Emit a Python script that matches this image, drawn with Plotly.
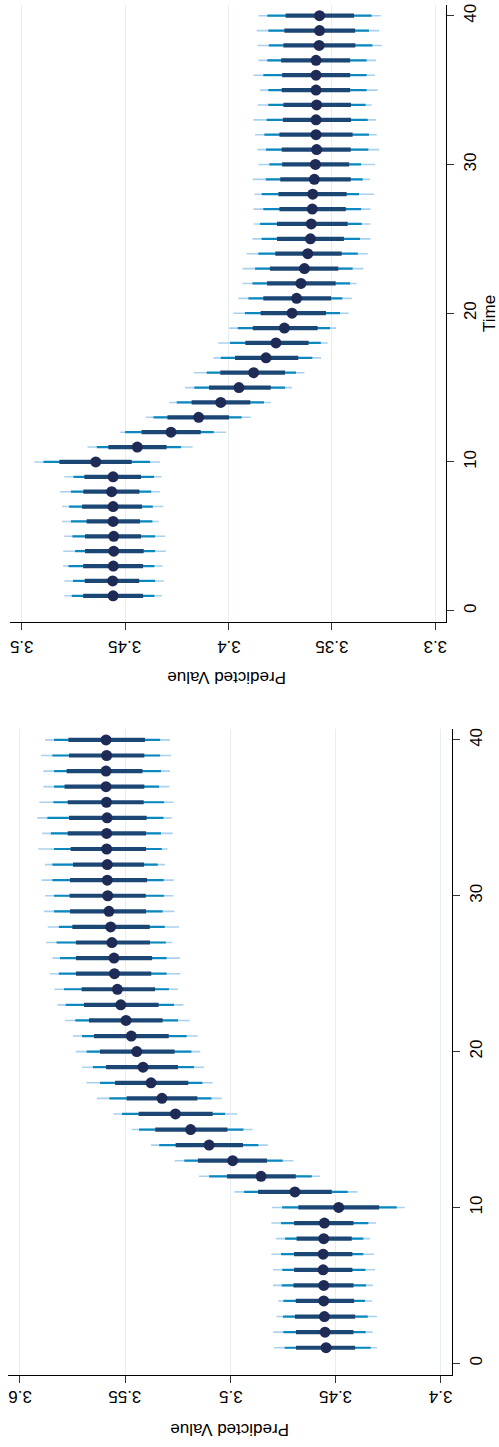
import plotly.graph_objects as go

time = list(range(1, 41))

# Panel A (top)
a_med = [3.4558,3.4560,3.4557,3.4555,3.4555,3.4558,3.4558,3.4565,3.4558,3.4642,
         3.4441,3.4278,3.4144,3.4037,3.3949,3.3878,3.3818,3.3770,3.3729,3.3692,
         3.3670,3.3649,3.3632,3.3616,3.3603,3.3599,3.3594,3.3592,3.3584,3.3579,
         3.3573,3.3576,3.3576,3.3573,3.3576,3.3576,3.3576,3.3561,3.3559,3.3559]
a_lo50 = [3.4413,3.4432,3.4413,3.4410,3.4423,3.4428,3.4418,3.4431,3.4423,3.4468,
          3.4299,3.4134,3.3997,3.3894,3.3795,3.3726,3.3662,3.3612,3.3568,3.3528,
          3.3503,3.3481,3.3468,3.3452,3.3441,3.3423,3.3432,3.3428,3.3408,3.3416,
          3.3408,3.3399,3.3407,3.3407,3.3411,3.3411,3.3411,3.3386,3.3387,3.3392]
a_hi50 = [3.4703,3.4695,3.4703,3.4694,3.4694,3.4686,3.4708,3.4702,3.4697,3.4818,
          3.4581,3.4420,3.4295,3.4178,3.4094,3.4039,3.3968,3.3918,3.3882,3.3844,
          3.3831,3.3813,3.3799,3.3773,3.3765,3.3765,3.3753,3.3758,3.3749,3.3740,
          3.3742,3.3753,3.3736,3.3734,3.3742,3.3740,3.3745,3.3734,3.3729,3.3723]
a_lo80 = [3.4358,3.4355,3.4358,3.4355,3.4355,3.4368,3.4366,3.4374,3.4360,3.4379,
          3.4229,3.4071,3.3936,3.3828,3.3726,3.3673,3.3594,3.3553,3.3508,3.3460,
          3.3449,3.3411,3.3399,3.3374,3.3363,3.3355,3.3358,3.3368,3.3350,3.3358,
          3.3323,3.3320,3.3326,3.3336,3.3331,3.3331,3.3331,3.3303,3.3320,3.3307]
a_hi80 = [3.4758,3.4752,3.4774,3.4742,3.4755,3.4762,3.4771,3.4762,3.4750,3.4895,
          3.4637,3.4500,3.4363,3.4250,3.4165,3.4105,3.4037,3.3992,3.3955,3.3920,
          3.3903,3.3884,3.3871,3.3855,3.3839,3.3847,3.3831,3.3839,3.3819,3.3802,
          3.3818,3.3826,3.3815,3.3807,3.3807,3.3831,3.3812,3.3805,3.3807,3.3812]
a_lo95 = [3.4321,3.4313,3.4318,3.4303,3.4307,3.4337,3.4315,3.4331,3.4324,3.4331,
          3.4173,3.4012,3.3892,3.3795,3.3692,3.3632,3.3552,3.3520,3.3479,3.3418,
          3.3403,3.3379,3.3347,3.3326,3.3312,3.3312,3.3312,3.3295,3.3315,3.3290,
          3.3271,3.3282,3.3286,3.3307,3.3278,3.3290,3.3286,3.3258,3.3270,3.3263]
a_hi95 = [3.4794,3.4794,3.4800,3.4799,3.4794,3.4805,3.4805,3.4815,3.4794,3.4939,
          3.4682,3.4524,3.4400,3.4287,3.4210,3.4166,3.4073,3.4049,3.3997,3.3976,
          3.3952,3.3932,3.3932,3.3912,3.3884,3.3876,3.3879,3.3874,3.3882,3.3855,
          3.3860,3.3871,3.3879,3.3858,3.3847,3.3879,3.3855,3.3860,3.3863,3.3855]

# Panel B (bottom)
b_med = [3.4545,3.4550,3.4553,3.4556,3.4556,3.4559,3.4559,3.4556,3.4553,3.4485,
         3.4693,3.4854,3.4989,3.5101,3.5189,3.5261,3.5325,3.5377,3.5415,3.5445,
         3.5471,3.5496,3.5521,3.5537,3.5551,3.5553,3.5563,3.5569,3.5577,3.5583,
         3.5585,3.5585,3.5588,3.5588,3.5586,3.5589,3.5591,3.5591,3.5588,3.5591]
b_lo50 = [3.4407,3.4415,3.4407,3.4412,3.4415,3.4420,3.4420,3.4423,3.4415,3.4293,
          3.4518,3.4689,3.4826,3.4940,3.5014,3.5084,3.5157,3.5200,3.5249,3.5265,
          3.5293,3.5322,3.5341,3.5358,3.5376,3.5372,3.5382,3.5383,3.5401,3.5402,
          3.5396,3.5410,3.5401,3.5401,3.5398,3.5412,3.5409,3.5418,3.5409,3.5406]
b_hi50 = [3.4688,3.4688,3.4693,3.4689,3.4700,3.4697,3.4697,3.4685,3.4697,3.4677,
          3.4868,3.5016,3.5154,3.5260,3.5357,3.5436,3.5493,3.5548,3.5591,3.5620,
          3.5648,3.5672,3.5696,3.5707,3.5734,3.5734,3.5734,3.5751,3.5762,3.5764,
          3.5762,3.5748,3.5759,3.5773,3.5767,3.5773,3.5788,3.5778,3.5767,3.5770]
b_lo80 = [3.4333,3.4357,3.4347,3.4360,3.4355,3.4358,3.4368,3.4368,3.4344,3.4209,
          3.4442,3.4613,3.4751,3.4867,3.4938,3.5025,3.5090,3.5133,3.5173,3.5185,
          3.5208,3.5249,3.5268,3.5292,3.5303,3.5303,3.5307,3.5312,3.5322,3.5315,
          3.5317,3.5345,3.5326,3.5330,3.5318,3.5315,3.5339,3.5330,3.5334,3.5334]
b_hi80 = [3.4742,3.4748,3.4750,3.4748,3.4756,3.4753,3.4759,3.4740,3.4759,3.4754,
          3.4935,3.5101,3.5219,3.5338,3.5434,3.5515,3.5575,3.5620,3.5653,3.5683,
          3.5705,3.5737,3.5783,3.5791,3.5815,3.5810,3.5826,3.5815,3.5838,3.5838,
          3.5846,3.5846,3.5838,3.5853,3.5870,3.5841,3.5838,3.5838,3.5846,3.5838]
b_lo95 = [3.4303,3.4323,3.4303,3.4326,3.4323,3.4312,3.4317,3.4336,3.4307,3.4171,
          3.4396,3.4574,3.4700,3.4822,3.4894,3.4968,3.5041,3.5084,3.5125,3.5143,
          3.5155,3.5193,3.5223,3.5249,3.5238,3.5239,3.5276,3.5244,3.5266,3.5271,
          3.5269,3.5311,3.5298,3.5274,3.5279,3.5271,3.5290,3.5287,3.5282,3.5287]
b_hi95 = [3.4792,3.4796,3.4780,3.4773,3.4797,3.4797,3.4805,3.4783,3.4805,3.4802,
          3.4981,3.5149,3.5265,3.5377,3.5469,3.5556,3.5635,3.5685,3.5705,3.5735,
          3.5748,3.5786,3.5822,3.5837,3.5857,3.5846,3.5876,3.5868,3.5886,3.5881,
          3.5897,3.5881,3.5913,3.5894,3.5918,3.5908,3.5889,3.5889,3.5900,3.5881]

a_ticks = [3.3, 3.35, 3.4, 3.45, 3.5]
a_ticktext = ["3.3", "3.35", "3.4", "3.45", "3.5"]
b_ticks = [3.4, 3.45, 3.5, 3.55, 3.6]
b_ticktext = ["3.4", "3.45", "3.5", "3.55", "3.6"]
time_ticks = [0, 10, 20, 30, 40]
value_title = "Predicted Value"
time_title = "Time"

C_THIN = "#a9d0ec"
C_MID = "#0a88bf"
C_THICK = "#1c4774"
C_DOT = "#1e2b56"

FONT = "Liberation Sans, Arial, sans-serif"
W, H = 499, 1447


def segs(lo, hi, t):
    xs, ys = [], []
    for l, h, tt in zip(lo, hi, t):
        xs += [l, h, None]
        ys += [tt, tt, None]
    return xs, ys


fig = go.Figure()


def add_panel(xa, ya, med, lo50, hi50, lo80, hi80, lo95, hi95):
    for lo, hi, col, w in [(lo95, hi95, C_THIN, 1.6),
                           (lo80, hi80, C_MID, 2.2),
                           (lo50, hi50, C_THICK, 4.2)]:
        xs, ys = segs(lo, hi, time)
        fig.add_trace(go.Scatter(x=xs, y=ys, mode="lines",
                                 line=dict(color=col, width=w),
                                 xaxis=xa, yaxis=ya, hoverinfo="skip",
                                 showlegend=False))
    fig.add_trace(go.Scatter(x=med, y=time, mode="markers",
                             marker=dict(color=C_DOT, size=11, line=dict(width=0)),
                             xaxis=xa, yaxis=ya, showlegend=False))


add_panel("x", "y", a_med, a_lo50, a_hi50, a_lo80, a_hi80, a_lo95, a_hi95)
add_panel("x2", "y2", b_med, b_lo50, b_hi50, b_lo80, b_hi80, b_lo95, b_hi95)

GRID = "#e6eef2"

val_axis_common = dict(
    showgrid=True, gridcolor=GRID, gridwidth=1, zeroline=False,
    showline=True, linecolor="#000000", linewidth=1.3,
    ticks="outside", ticklen=7, tickwidth=1.3, tickcolor="#333333",
    showticklabels=False, side="bottom",
)
time_axis_common = dict(
    showgrid=False, zeroline=False,
    showline=True, linecolor="#000000", linewidth=1.3,
    ticks="outside", ticklen=7, tickwidth=1.3, tickcolor="#333333",
    tickangle=-90, tickfont=dict(family=FONT, size=17, color="#000000"),
    side="right", tickvals=time_ticks, ticklabelstandoff=1,
)

tfont = dict(family=FONT, size=17, color="#000000")
annotations = []
# value-axis tick labels (rotated 180 degrees), positioned by the data axes
for xa, ticks, texts, ypx in [("x", a_ticks, a_ticktext, 646.5),
                              ("x2", b_ticks, b_ticktext, 1396.5)]:
    for v, t in zip(ticks, texts):
        annotations.append(dict(text=t, x=v, xref=xa, y=(H - ypx) / H, yref="paper",
                                showarrow=False, textangle=180, xanchor="center",
                                yanchor="middle", font=tfont, borderpad=0))

annotations += [
    dict(text=value_title, x=227/W, y=(H-678)/H, xref="paper", yref="paper",
         showarrow=False, textangle=180, xanchor="center", yanchor="middle", font=tfont),
    dict(text=value_title, x=230/W, y=(H-1430)/H, xref="paper", yref="paper",
         showarrow=False, textangle=180, xanchor="center", yanchor="middle", font=tfont),
    dict(text=time_title, x=490/W, y=(H-314)/H, xref="paper", yref="paper",
         showarrow=False, textangle=-90, xanchor="center", yanchor="middle", font=tfont,
         borderpad=0),
]

fig.update_layout(
    width=W, height=H,
    margin=dict(l=0, r=0, t=0, b=0),
    paper_bgcolor="white", plot_bgcolor="white",
    showlegend=False,
    xaxis=dict(domain=[10/W, 446/W], range=[3.5057, 3.2947], anchor="y",
               tickvals=a_ticks, **val_axis_common),
    yaxis=dict(domain=[(H-622)/H, (H-5)/H], range=[-0.76, 40.72], anchor="x",
               **time_axis_common),
    xaxis2=dict(domain=[8/W, 452.3/W], range=[3.6057, 3.3945], anchor="y2",
                tickvals=b_ticks, **val_axis_common),
    yaxis2=dict(domain=[(H-1375)/H, (H-729)/H], range=[-0.75, 40.7], anchor="x2",
                **time_axis_common),
    annotations=annotations,
)

fig.write_html(
    "out.html", config={"displayModeBar": False},
    post_script=(
        "document.documentElement.style.overflow='hidden';"
        "document.documentElement.style.width='499px';"
        "document.body.style.margin='0px';document.body.style.overflow='hidden';"
        "document.body.style.width='499px';"
        "var g=document.querySelector('.plotly-graph-div');"
        "if(g){g.style.overflow='hidden';}"
    ),
)
